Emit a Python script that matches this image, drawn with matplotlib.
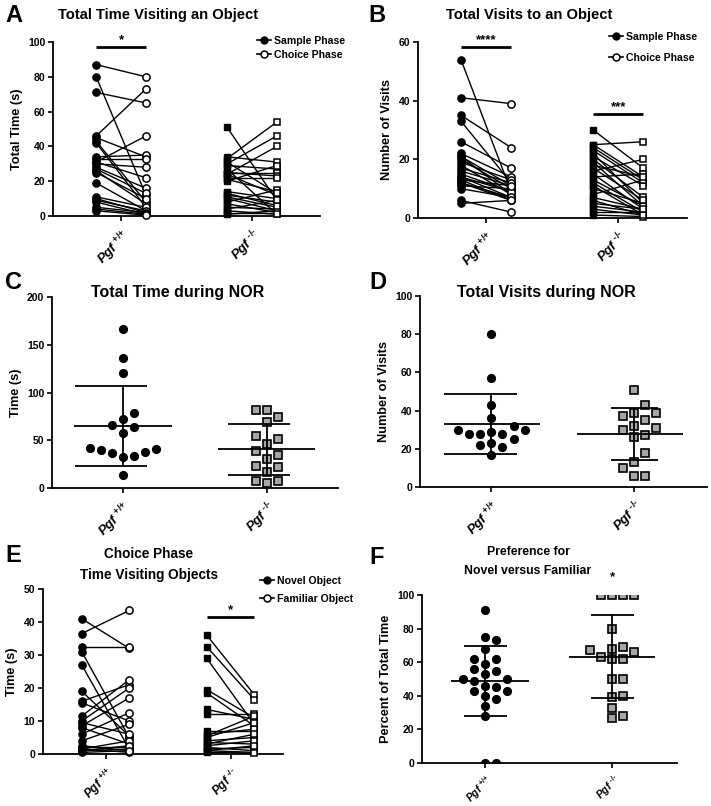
import numpy as np
import matplotlib
matplotlib.use("Agg")
import matplotlib.pyplot as plt
from matplotlib.lines import Line2D

# ---- data ----
GROUPS = [r"$Pgf^{\ \text{+/+}}$", r"$Pgf^{\ \text{-/-}}$"]

# A: total time visiting an object (sample -> choice pairs)
a_wt_sample = [87, 80, 71, 46, 45, 43, 42, 34, 33, 31, 31, 30, 28, 27, 26, 25, 19, 11, 10, 9, 8, 5, 4, 3]
a_wt_choice = [80, 12, 65, 73, 34, 8, 5, 35, 33, 46, 22, 28, 16, 13, 7, 10, 3, 5, 2, 3, 1, 2, 1, 0.5]
a_ko_sample = [51, 33, 30, 24, 34, 29, 25, 25, 22, 21, 24, 14, 12, 11, 10, 8, 7, 5, 3, 2, 1, 20, 31, 27, 13, 4]
a_ko_choice = [9, 54, 46, 40, 31, 27, 25, 23, 22, 14, 12, 10, 8, 5, 3, 15, 2, 4, 1, 2, 3, 29, 13, 1, 6, 9]

# B: total visits to an object
b_wt_sample = [54, 41, 35, 33, 26, 22, 21, 20, 19, 18, 15, 14, 13, 12, 11, 10, 6, 5, 21, 17, 14, 12, 16, 13]
b_wt_choice = [9, 39, 24, 12, 17, 14, 11, 10, 13, 8, 9, 7, 11, 6, 10, 7, 2, 6, 8, 12, 9, 7, 11, 6]
b_ko_sample = [30, 25, 24, 23, 22, 21, 20, 18, 16, 15, 14, 13, 12, 10, 8, 6, 5, 4, 3, 2, 1, 25, 19, 17, 11, 7]
b_ko_choice = [17, 26, 13, 12, 5, 11, 7, 14, 20, 3, 15, 4, 2, 5, 13, 1, 3, 2, 1, 2, 0.5, 14, 4, 6, 1, 3]

# C: total time during NOR
c_wt = [167, 136, 120, 79, 72, 66, 64, 58, 41, 38, 33, 32, 37, 40, 42, 14]
c_ko = [82, 82, 74, 69, 54, 51, 46, 39, 35, 30, 23, 22, 17, 7, 7, 5]
c_mean = [65, 40.5]
c_sd = [42, 26.5]

# D: total visits during NOR
d_wt = [80, 57, 43, 36, 32, 30, 28, 28, 25, 28, 29, 30, 22, 21, 23, 17]
d_ko = [51, 43, 39, 39, 37, 35, 32, 31, 30, 27, 26, 18, 13, 10, 6, 6]
d_mean = [33.2, 27.7]
d_sd = [15.7, 13.6]

# E: choice phase, novel -> familiar pairs
e_wt_novel = [41, 36.5, 32.5, 31, 27, 19, 16, 15.5, 11.5, 10, 9.5, 8.5, 8, 6, 4, 2.5, 2, 1.5, 1.5, 1, 1, 0.5]
e_wt_famil = [32, 43.5, 32.5, 5, 1.5, 5.5, 21, 10, 22.5, 20, 6, 17, 3, 12.5, 9, 1, 2, 0.5, 4, 1.5, 2.5, 1]
e_ko_novel = [36, 32.5, 29, 19.5, 18.5, 13.5, 12, 7, 6, 5, 4, 3.5, 3, 2, 1.5, 1, 0.5, 5.5, 2.5, 1]
e_ko_famil = [18, 16.5, 9, 11, 8.5, 10.5, 12, 7, 7.5, 9.5, 5, 3, 6, 1, 2, 0.5, 0.3, 11.5, 4, 2.5]

# F: preference for novel vs familiar (% of total time)
f_wt = [91, 75, 73, 68, 62, 62, 59, 56, 55, 53, 50, 50, 49, 46, 45, 43, 43, 40, 38, 34, 28, 0, 0]
f_ko = [100, 100, 100, 100, 80, 69, 68, 67, 66, 62, 62, 63, 50, 50, 40, 39, 33, 28, 27]
f_mean = [48.8, 63.3]
f_sd = [21, 24.5]

# ---- style ----
plt.rcParams["font.family"] = ["Liberation Sans", "DejaVu Sans"]
plt.rcParams["font.weight"] = "bold"
plt.rcParams["axes.labelweight"] = "bold"
plt.rcParams["mathtext.fontset"] = "custom"
plt.rcParams["mathtext.it"] = "Liberation Sans:italic:bold"
plt.rcParams["mathtext.rm"] = "Liberation Sans:bold"
plt.rcParams["mathtext.bf"] = "Liberation Sans:bold"

W, H = 711, 806
OFF = 0.19
GREY = "#a6a6a6"


def box(left, top, right, bottom):
    return [left / W, 1 - bottom / H, (right - left) / W, (bottom - top) / H]


def fpt(x, y):
    return (x / W, 1 - y / H)


def style(ax, ymax, ystep, xlim, ylabel, xfs=9.5, xpad=4):
    ax.set_xlim(*xlim)
    ax.set_ylim(0, ymax)
    ax.set_yticks(np.arange(0, ymax + 0.1, ystep))
    for s in ("top", "right"):
        ax.spines[s].set_visible(False)
    for s in ("left", "bottom"):
        ax.spines[s].set_linewidth(1.3)
    ax.tick_params(width=1.2, length=3.5)
    ax.tick_params(axis="y", labelsize=7.5, pad=2)
    ax.tick_params(axis="x", pad=xpad)
    ax.set_xticks([0, 1])
    ax.set_xticklabels(GROUPS, rotation=45, ha="right", va="top",
                       rotation_mode="anchor", fontsize=xfs)
    ax.set_ylabel(ylabel, fontsize=9.2, labelpad=4)


def paired(ax, i, first, second, marker, ms=5.2):
    for s, c in zip(first, second):
        ax.plot([i - OFF, i + OFF], [s, c], color="k", lw=1.0, zorder=2, clip_on=False)
    ax.plot([i - OFF] * len(first), first, ls="none", marker=marker, ms=ms,
            mfc="k", mec="k", zorder=3, clip_on=False)
    ax.plot([i + OFF] * len(second), second, ls="none", marker=marker, ms=ms,
            mfc="white", mec="k", mew=1.1, zorder=3, clip_on=False)


def sig(ax, i, y, stars, dy):
    ax.plot([i - OFF, i + OFF], [y, y], color="k", lw=2, clip_on=False, solid_capstyle="butt")
    ax.text(i, y + dy, stars, ha="center", va="bottom", fontsize=9.5)


def swarm(vals, ypx, xpx, step=11.0, dist=10.0):
    vals = np.asarray(vals, float)
    order = np.argsort(vals, kind="stable")
    cands = [0.0] + [sg * k * step for k in range(1, 12) for sg in (1, -1)]
    placed = []
    offs = np.zeros(len(vals))
    for i in order:
        y = vals[i] * ypx
        for c in cands:
            if all((c - px) ** 2 + (y - py) ** 2 >= dist ** 2 for px, py in placed):
                break
        placed.append((c, y))
        offs[i] = c / xpx
    return offs


def scatter_panel(ax, data, means, sds, ypx, xpx, caps, mw):
    markers = [dict(marker="o", mfc="k", mec="k", ms=5.6),
               dict(marker="s", mfc=GREY, mec="k", mew=1.2, ms=5.4)]
    for i, vals in enumerate(data):
        x = i + swarm(vals, ypx, xpx)
        ax.plot(x, vals, ls="none", zorder=3, **markers[i])
        m, sd = means[i], sds[i]
        kw = dict(color="k", lw=1.3, zorder=4)
        ax.vlines(i, m - sd, m + sd, **kw)
        ax.hlines(m, i - mw[i][0], i + mw[i][1], **kw)
        ax.hlines([m - sd, m + sd], i - caps[i][0], i + caps[i][1], **kw)


def legend(ax, labels, x, y, spacing):
    handles = [Line2D([], [], color="k", lw=1.2, marker="o", ms=5, mfc="k", mec="k"),
               Line2D([], [], color="k", lw=1.2, marker="o", ms=5, mfc="white", mec="k", mew=1.1)]
    ax.legend(handles, labels, loc="upper left", bbox_to_anchor=fpt(x, y),
              bbox_transform=ax.figure.transFigure, frameon=False, fontsize=7.6,
              handlelength=1.3, handletextpad=0.35, borderpad=0, borderaxespad=0,
              labelspacing=spacing)


fig = plt.figure(figsize=(W / 100, H / 100), dpi=100)

# A
ax = fig.add_axes(box(53, 42, 320, 216))
style(ax, 100, 20, (-0.52, 1.52), "Total Time (s)")
paired(ax, 0, a_wt_sample, a_wt_choice, "o")
paired(ax, 1, a_ko_sample, a_ko_choice, "s", ms=4.8)
sig(ax, 0, 97, "*", 0.5)
legend(ax, ["Sample Phase", "Choice Phase"], 257, 36, 0.35)

# B
ax = fig.add_axes(box(418, 42, 687, 218))
style(ax, 60, 20, (-0.515, 1.52), "Number of Visits")
paired(ax, 0, b_wt_sample, b_wt_choice, "o")
paired(ax, 1, b_ko_sample, b_ko_choice, "s", ms=4.8)
sig(ax, 0, 58.3, "****", 0.3)
sig(ax, 1, 35.3, "***", 0.3)
legend(ax, ["Sample Phase", "Choice Phase"], 609, 32, 1.0)

# C
ax = fig.add_axes(box(52, 297, 338, 488))
style(ax, 200, 50, (-0.49, 1.49), "Time (s)")
scatter_panel(ax, [c_wt, c_ko], c_mean, c_sd, 191 / 200, 144,
              caps=[(0.33, 0.17), (0.27, 0.16)], mw=[(0.34, 0.34), (0.34, 0.33)])

# D
ax = fig.add_axes(box(420, 296, 707, 487))
style(ax, 100, 20, (-0.5, 1.51), "Number of Visits")
scatter_panel(ax, [d_wt, d_ko], d_mean, d_sd, 191 / 100, 142,
              caps=[(0.33, 0.18), (0.16, 0.17)], mw=[(0.33, 0.34), (0.4, 0.34)])

# E
ax = fig.add_axes(box(43, 589, 283, 754))
style(ax, 50, 10, (-0.5, 1.42), "Time (s)", xfs=8.5)
paired(ax, 0, e_wt_novel, e_wt_famil, "o")
paired(ax, 1, e_ko_novel, e_ko_famil, "s", ms=4.8)
sig(ax, 1, 41.5, "*", 0.4)
legend(ax, ["Novel Object", "Familiar Object"], 260, 576, 0.75)

# F
ax = fig.add_axes(box(422, 595, 677, 763))
style(ax, 100, 20, (-0.5, 1.51), "Percent of Total Time", xfs=7.5, xpad=3)
scatter_panel(ax, [f_wt, f_ko], f_mean, f_sd, 168 / 100, 127,
              caps=[(0.17, 0.17), (0.17, 0.17)], mw=[(0.27, 0.34), (0.34, 0.34)])
ax.text(1, 107, "*", ha="center", va="bottom", fontsize=9.5, clip_on=False)

# titles and panel letters
for letter, x, y in [("A", 5, 15), ("B", 368, 15), ("C", 5, 282),
                     ("D", 369, 282), ("E", 5, 556), ("F", 369, 557)]:
    fig.text(*fpt(x, y), letter, fontsize=17, fontweight="bold", va="center", ha="left")

titles = [("Total Time Visiting an Object", 158, 15, 10.6),
          ("Total Visits to an Object", 529, 15, 10.6),
          ("Total Time during NOR", 178, 292, 11.5),
          ("Total Visits during NOR", 546, 292, 11.5),
          ("Choice Phase", 149, 554, 9.8),
          ("Time Visiting Objects", 149, 575, 9.8),
          ("Preference for", 528, 552, 8.8),
          ("Novel versus Familiar", 528, 571, 8.8)]
for text, x, y, fs in titles:
    fig.text(*fpt(x, y), text, fontsize=fs, fontweight="bold", ha="center", va="center")

fig.savefig("out.png", dpi=100, facecolor="white")
